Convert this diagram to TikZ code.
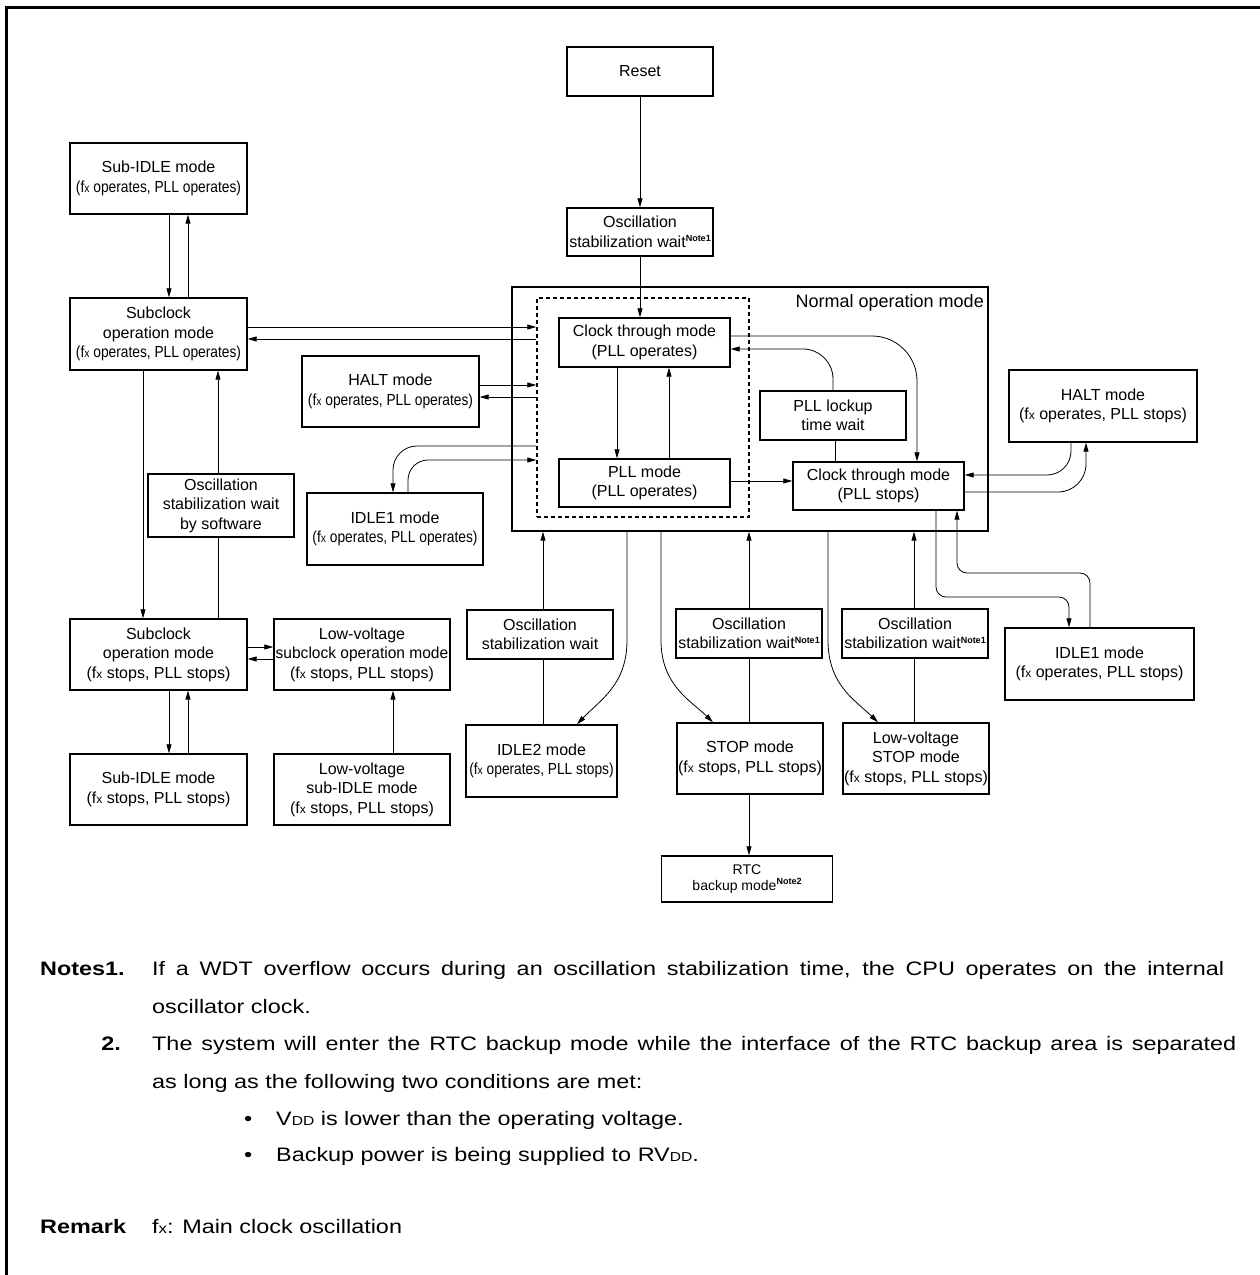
\documentclass[tikz,border=0pt]{standalone}
\usepackage{graphicx}
\usepackage{fontspec}
\setmainfont{Liberation Sans}
\newfontfamily\condfont[FakeStretch=0.86]{Liberation Sans}
\newfontfamily\notefont[FakeStretch=1.2]{Liberation Sans}
\usetikzlibrary{arrows.meta}
\newcommand\fxs{f{\fontsize{12}{12}\selectfont x}}
\newcommand\noteref[1]{\raisebox{5.5pt}{\fontsize{9}{9}\selectfont\bfseries Note#1}}
\newcommand\ddsub{{\fontsize{13}{13}\selectfont DD}}
\begin{document}
\begin{tikzpicture}[x=1pt,y=-1pt,
  box/.style={draw,line width=1.4pt,inner sep=0pt,align=center,font=\fontsize{16}{19.5}\selectfont},
  con/.style={line width=0.8pt},
  arr/.style={con,-{Triangle[length=9pt,width=5pt]}},
  notes/.style={anchor=base west,inner sep=0pt,font=\notefont\fontsize{19.5}{19.5}\selectfont}
]
\useasboundingbox (0,0) rectangle (1259,1275);
\draw[line width=3pt] (6.5,1276) -- (6.5,7.5) -- (1260,7.5);

% central column
\node[box,minimum width=146,minimum height=49] (reset) at (640,71.5) {Reset};
\node[box,minimum width=146,minimum height=48] (osc0) at (640,232) {Oscillation\\stabilization wait\noteref{1}};
\node[box,minimum width=476,minimum height=244] (normal) at (750,409) {};
\node[anchor=east,inner sep=0pt,font=\fontsize{18}{18}\selectfont] (normlbl) at (984,303) {Normal operation mode};
\node[draw,line width=1.4pt,dash pattern=on 4pt off 3pt,minimum width=212,minimum height=219,inner sep=0pt] (dash) at (643,407.5) {};
\node[box,minimum width=171,minimum height=49] (clkop) at (644.5,342.5) {Clock through mode\\(PLL operates)};
\node[box,minimum width=171,minimum height=48] (pll) at (644.5,483) {PLL mode\\(PLL operates)};
\node[box,minimum width=171,minimum height=48] (clkst) at (878.5,486) {Clock through mode\\(PLL stops)};
\node[box,minimum width=146,minimum height=49] (lock) at (833,415.5) {PLL lockup\\time wait};
\node[box,minimum width=188,minimum height=72] (haltR) at (1103,406) {HALT mode\\(\fxs{} operates, PLL stops)};
\node[box,minimum width=189,minimum height=72] (idle1R) at (1099.5,664) {IDLE1 mode\\(\fxs{} operates, PLL stops)};

% left side
\node[box,minimum width=177,minimum height=71] (subidleA) at (158.5,178.5) {Sub-IDLE mode\\{\condfont(\fxs{} operates, PLL operates)}};
\node[box,minimum width=177,minimum height=72] (subA) at (158.5,334) {Subclock\\operation mode\\{\condfont(\fxs{} operates, PLL operates)}};
\node[box,minimum width=177,minimum height=71] (haltL) at (390.5,391.5) {HALT mode\\{\condfont(\fxs{} operates, PLL operates)}};
\node[box,minimum width=176,minimum height=72] (idle1L) at (395,529) {IDLE1 mode\\{\condfont(\fxs{} operates, PLL operates)}};
\node[box,minimum width=146,minimum height=63] (oscsw) at (221,505.5) {Oscillation\\stabilization wait\\by software};
\node[box,minimum width=177,minimum height=71] (subB) at (158.5,654.5) {Subclock\\operation mode\\(\fxs{} stops, PLL stops)};
\node[box,minimum width=176,minimum height=71] (lvsub) at (362,654.5) {Low-voltage\\\scalebox{0.97}[1]{subclock operation mode}\\(\fxs{} stops, PLL stops)};
\node[box,minimum width=177,minimum height=71] (subidleB) at (158.5,789.5) {Sub-IDLE mode\\(\fxs{} stops, PLL stops)};
\node[box,minimum width=176,minimum height=71] (lvsubidle) at (362,789.5) {Low-voltage\\sub-IDLE mode\\(\fxs{} stops, PLL stops)};

% bottom row
\node[box,minimum width=146,minimum height=49] (osc1) at (540,634.5) {Oscillation\\stabilization wait};
\node[box,minimum width=151,minimum height=72] (idle2) at (541.5,761) {IDLE2 mode\\{\condfont(\fxs{} operates, PLL stops)}};
\node[box,minimum width=146,minimum height=49] (osc2) at (749,633.5) {Oscillation\\stabilization wait\noteref{1}};
\node[box,minimum width=146,minimum height=71] (stop) at (750,758.5) {STOP mode\\(\fxs{} stops, PLL stops)};
\node[box,minimum width=146,minimum height=49] (osc3) at (915,633.5) {Oscillation\\stabilization wait\noteref{1}};
\node[box,minimum width=146,minimum height=71] (lvstop) at (916,758.5) {Low-voltage\\STOP mode\\(\fxs{} stops, PLL stops)};
\node[box,minimum width=171,minimum height=46,font=\fontsize{14}{16}\selectfont] (rtc) at (747,879) {RTC\\backup mode\noteref{2}};

% connectors: centre
\draw[arr] (reset) -- (osc0);
\draw[arr] (osc0.south) -- (osc0.south |- clkop.north);
\draw[arr] (clkop.south -| 617,0) -- (pll.north -| 617,0);
\draw[arr] (pll.north -| 669,0) -- (clkop.south -| 669,0);
\draw[arr] (pll.east |- 0,481) -- (clkst.west |- 0,481);
\draw[con] (lock.south -| 835,0) -- (clkst.north -| 835,0);
\draw[arr,rounded corners=30] (lock.north -| 833,0) -- (833,349) -- (clkop.east |- 0,349);
\draw[arr,rounded corners=45] (clkop.east |- 0,336) -- (917,336) -- (clkst.north -| 917,0);
\draw[arr,rounded corners=24] (haltR.south -| 1071,0) -- (1071,475) -- (clkst.east |- 0,475);
\draw[arr,rounded corners=28] (clkst.east |- 0,492) -- (1086,492) -- (haltR.south -| 1086,0);
\draw[arr,rounded corners=10] (clkst.south -| 936,0) -- (936,597) -- (1069,597) -- (idle1R.north -| 1069,0);
\draw[arr,rounded corners=10] (idle1R.north -| 1090,0) -- (1090,573) -- (957,573) -- (clkst.south -| 957,0);

% connectors: left
\draw[arr] (subidleA.south -| 169,0) -- (subA.north -| 169,0);
\draw[arr] (subA.north -| 188,0) -- (subidleA.south -| 188,0);
\draw[arr] (subA.east |- 0,327) -- (dash.west |- 0,327);
\draw[arr] (dash.west |- 0,339) -- (subA.east |- 0,339);
\draw[arr] (haltL.east |- 0,385) -- (dash.west |- 0,385);
\draw[arr] (dash.west |- 0,397) -- (haltL.east |- 0,397);
\draw[arr,rounded corners=24] (dash.west |- 0,446) -- (393,446) -- (idle1L.north -| 393,0);
\draw[arr,rounded corners=20] (idle1L.north -| 408,0) -- (408,460) -- (dash.west |- 0,460);
\draw[arr] (subA.south -| 143,0) -- (subB.north -| 143,0);
\draw[con] (subB.north -| 218,0) -- (oscsw.south -| 218,0);
\draw[arr] (oscsw.north -| 218,0) -- (subA.south -| 218,0);
\draw[arr] (subB.east |- 0,647) -- (lvsub.west |- 0,647);
\draw[arr] (lvsub.west |- 0,659) -- (subB.east |- 0,659);
\draw[arr] (subB.south -| 169,0) -- (subidleB.north -| 169,0);
\draw[arr] (subidleB.north -| 188,0) -- (subB.south -| 188,0);
\draw[arr] (lvsubidle.north -| 393,0) -- (lvsub.south -| 393,0);

% connectors: bottom
\draw[con] (idle2.north -| 543,0) -- (osc1.south -| 543,0);
\draw[arr] (osc1.north -| 543,0) -- (normal.south -| 543,0);
\draw[arr] (normal.south -| 627,0) -- (627,640) .. controls (627,685) and (600,700) .. (idle2.north -| 577,0);
\draw[con] (stop.north -| 749,0) -- (osc2.south -| 749,0);
\draw[arr] (osc2.north -| 749,0) -- (normal.south -| 749,0);
\draw[arr] (normal.south -| 661,0) -- (661,640) .. controls (661,685) and (690,700) .. (stop.north -| 713,0);
\draw[con] (lvstop.north -| 914,0) -- (osc3.south -| 914,0);
\draw[arr] (osc3.north -| 914,0) -- (normal.south -| 914,0);
\draw[arr] (normal.south -| 828,0) -- (828,640) .. controls (828,685) and (855,700) .. (lvstop.north -| 878,0);
\draw[arr] (stop.south -| 749,0) -- (rtc.north -| 749,0);

% notes
\node[notes,font=\notefont\bfseries\fontsize{19.5}{19.5}\selectfont] (n1lbl) at (40,975) {Notes1.};
\node[notes] (n1a) at (152,975) {\makebox[1072pt][s]{If a WDT overflow occurs during an oscillation stabilization time, the CPU operates on the internal}};
\node[notes] (n1b) at (152,1013) {oscillator clock.};
\node[notes,anchor=base east,font=\notefont\bfseries\fontsize{19.5}{19.5}\selectfont] (n2lbl) at (121,1050) {2.};
\node[notes] (n2a) at (152,1050) {\makebox[1084pt][s]{The system will enter the RTC backup mode while the interface of the RTC backup area is separated}};
\node[notes] (n2b) at (152,1088) {as long as the following two conditions are met:};
\node[notes] (b1) at (244,1125) {\textbullet};
\node[notes] (b1t) at (276,1125) {V\ddsub{} is lower than the operating voltage.};
\node[notes] (b2) at (244,1161) {\textbullet};
\node[notes] (b2t) at (276,1161) {Backup power is being supplied to RV\ddsub.};
\node[notes,font=\notefont\bfseries\fontsize{19.5}{19.5}\selectfont] (rem) at (40,1233) {Remark};
\node[notes] (remt) at (152,1233) {f{\fontsize{14}{14}\selectfont x}: Main clock oscillation};
\end{tikzpicture}
\end{document}
